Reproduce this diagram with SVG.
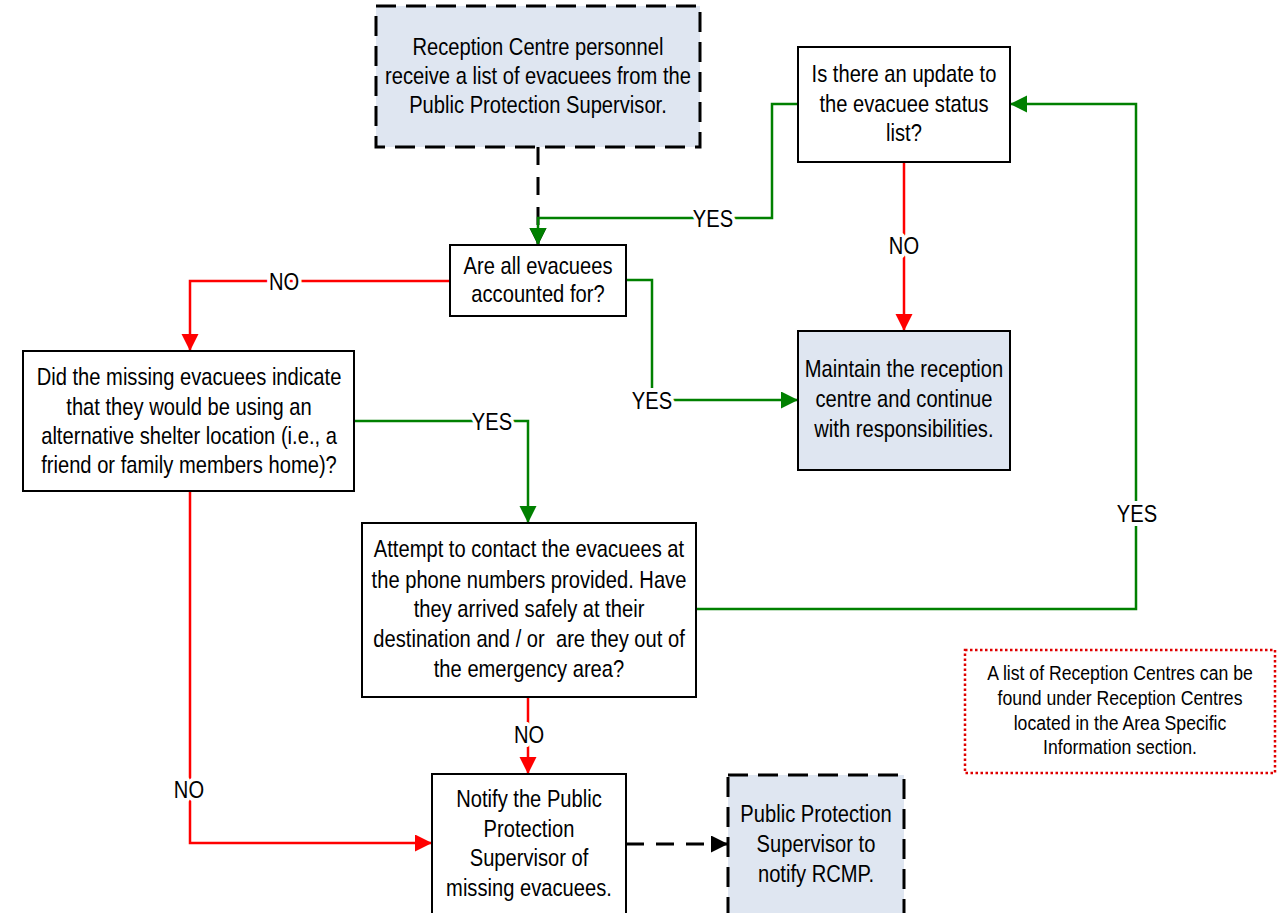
<svg xmlns="http://www.w3.org/2000/svg" width="1280" height="913" viewBox="0 0 1280 913">
<defs>
<style>
text{font-family:"Liberation Sans Narrow","Arial Narrow","Liberation Sans",sans-serif;fill:#000;text-anchor:middle;transform-box:fill-box;transform-origin:center;transform:scaleX(0.84);}
.t{font-size:24px;}
.n{font-size:21px;}
.box{fill:#fff;stroke:#000;stroke-width:2;}
.blue{fill:#dfe6f1;}
.dash{stroke-width:3;stroke-dasharray:20 10;}
.c{fill:none;stroke-width:2.5;}
.g{stroke:#008000;}
.r{stroke:#ff0000;}
.k{stroke:#000;stroke-width:3;stroke-dasharray:18 12;}
.lbl{font-size:24px;stroke:#fff;stroke-width:8;paint-order:stroke;stroke-linejoin:round;}
</style>
<marker id="ag" markerUnits="userSpaceOnUse" markerWidth="18" markerHeight="18" refX="17" refY="8.5" orient="auto"><path d="M0,0 L17,8.5 L0,17 z" fill="#008000"/></marker>
<marker id="ar" markerUnits="userSpaceOnUse" markerWidth="18" markerHeight="18" refX="17" refY="8.5" orient="auto"><path d="M0,0 L17,8.5 L0,17 z" fill="#ff0000"/></marker>
<marker id="ak" markerUnits="userSpaceOnUse" markerWidth="18" markerHeight="18" refX="17" refY="8.5" orient="auto"><path d="M0,0 L17,8.5 L0,17 z" fill="#000"/></marker>
</defs>
<rect width="1280" height="913" fill="#fff"/>

<g id="connectors">
<path class="c k" d="M538,147 V245" marker-end="url(#ak)"/>
<path class="c g" d="M798,104 H772 V218 H538 V245" marker-end="url(#ag)"/>
<path class="c r" d="M450,281 H190 V351" marker-end="url(#ar)"/>
<path class="c g" d="M626,280 H652 V400 H798" marker-end="url(#ag)"/>
<path class="c g" d="M354,421 H528 V523" marker-end="url(#ag)"/>
<path class="c r" d="M904,162 V331" marker-end="url(#ar)"/>
<path class="c g" d="M696,609 H1136 V104 H1010" marker-end="url(#ag)"/>
<path class="c r" d="M528,697 V774" marker-end="url(#ar)"/>
<path class="c r" d="M190,491 V843 H432" marker-end="url(#ar)"/>
<path class="c k" d="M626,844 H728" marker-end="url(#ak)"/>
<text class="lbl" x="713" y="227">YES</text>
<text class="lbl" x="284" y="290">NO</text>
<text class="lbl" x="652" y="409">YES</text>
<text class="lbl" x="492" y="430">YES</text>
<text class="lbl" x="904" y="254">NO</text>
<text class="lbl" x="1137" y="522">YES</text>
<text class="lbl" x="529" y="743">NO</text>
<text class="lbl" x="189" y="798">NO</text>
</g>

<g id="n-start">
<rect class="box blue dash" x="376" y="6" width="324" height="141"/>
<text class="t" x="538" y="55">Reception Centre personnel</text>
<text class="t" x="538" y="84">receive a list of evacuees from the</text>
<text class="t" x="538" y="113">Public Protection Supervisor.</text>
</g>

<g id="n-accounted">
<rect class="box" x="450" y="245" width="176" height="71"/>
<text class="t" x="538" y="274">Are all evacuees</text>
<text class="t" x="538" y="302">accounted for?</text>
</g>

<g id="n-update">
<rect class="box" x="798" y="47" width="212" height="115"/>
<text class="t" x="904" y="82">Is there an update to</text>
<text class="t" x="904" y="112">the evacuee status</text>
<text class="t" x="904" y="141">list?</text>
</g>

<g id="n-maintain">
<rect class="box blue" x="798" y="331" width="212" height="139"/>
<text class="t" x="904" y="377">Maintain the reception</text>
<text class="t" x="904" y="407">centre and continue</text>
<text class="t" x="904" y="437">with responsibilities.</text>
</g>

<g id="n-alternative">
<rect class="box" x="23" y="351" width="331" height="140"/>
<text class="t" x="189" y="385">Did the missing evacuees indicate</text>
<text class="t" x="189" y="415">that they would be using an</text>
<text class="t" x="189" y="444">alternative shelter location (i.e., a</text>
<text class="t" x="189" y="473">friend or family members home)?</text>
</g>

<g id="n-contact">
<rect class="box" x="362" y="523" width="334" height="174"/>
<text class="t" x="529" y="557">Attempt to contact the evacuees at</text>
<text class="t" x="529" y="588">the phone numbers provided. Have</text>
<text class="t" x="529" y="617">they arrived safely at their</text>
<text class="t" x="529" y="647" xml:space="preserve">destination and / or  are they out of</text>
<text class="t" x="529" y="677">the emergency area?</text>
</g>

<g id="n-notify">
<rect class="box" x="432" y="774" width="194" height="150"/>
<text class="t" x="529" y="807">Notify the Public</text>
<text class="t" x="529" y="837">Protection</text>
<text class="t" x="529" y="866">Supervisor of</text>
<text class="t" x="529" y="896">missing evacuees.</text>
</g>

<g id="n-rcmp">
<rect class="box blue dash" x="728" y="775" width="176" height="150"/>
<text class="t" x="816" y="822">Public Protection</text>
<text class="t" x="816" y="852">Supervisor to</text>
<text class="t" x="816" y="882">notify RCMP.</text>
</g>

<g id="n-note">
<rect x="965" y="650" width="310" height="123" fill="#fff" stroke="#e00000" stroke-width="2.5" stroke-dasharray="2.5 2.5"/>
<text class="n" x="1120" y="680">A list of Reception Centres can be</text>
<text class="n" x="1120" y="705">found under Reception Centres</text>
<text class="n" x="1120" y="730">located in the Area Specific</text>
<text class="n" x="1120" y="754">Information section.</text>
</g>
</svg>
